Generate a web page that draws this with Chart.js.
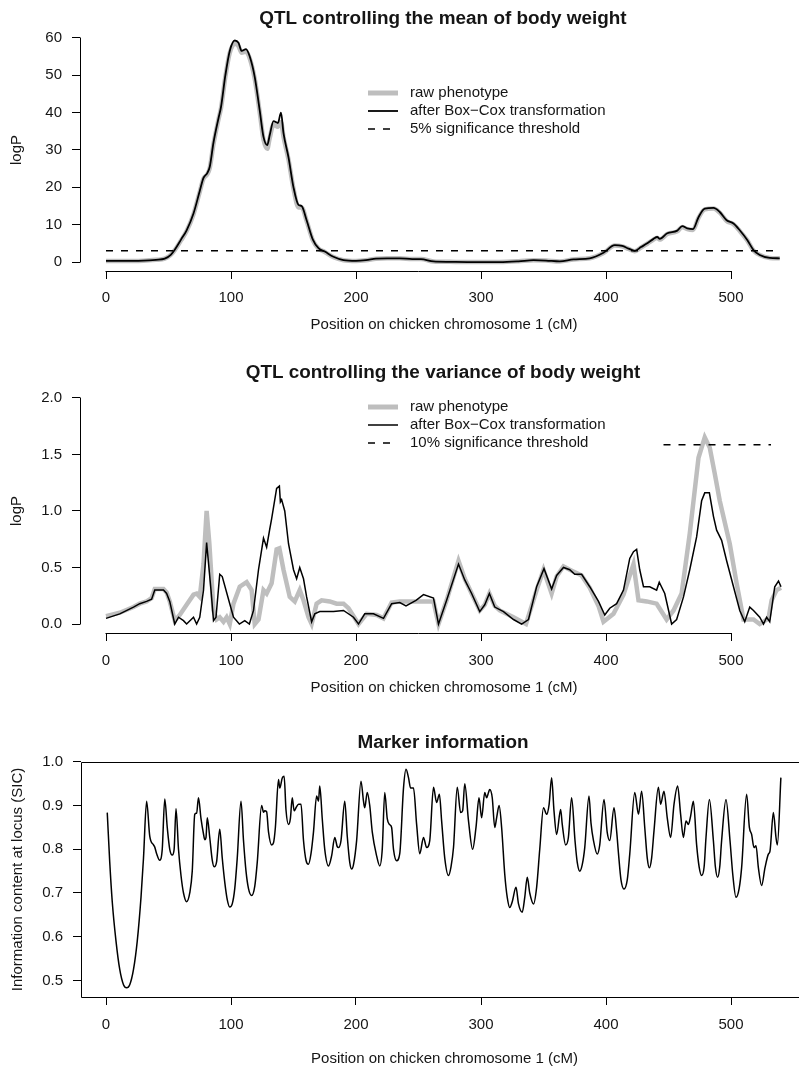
<!DOCTYPE html>
<html><head><meta charset="utf-8">
<script src="https://cdn.jsdelivr.net/npm/chart.js@4.4.1/dist/chart.umd.min.js"></script>
<style>
html,body{margin:0;padding:0;background:#fff;overflow:hidden;width:799px;height:1068px;position:relative;}
canvas{position:absolute;left:0;}
</style></head><body>
<canvas id="c1" width="886" height="342" style="top:0px;width:886px;height:342px"></canvas>
<canvas id="c2" width="886" height="363" style="top:342px;width:886px;height:363px"></canvas>
<canvas id="c3" width="886" height="363" style="top:705px;width:886px;height:363px"></canvas>
<script>
// ---------------- DATA ----------------
const titles = ["QTL controlling the mean of body weight", "QTL controlling the variance of body weight", "Marker information"];
const xAxisTitle = "Position on chicken chromosome 1 (cM)";
const seriesLabels = ["raw phenotype", "after Box\u2212Cox transformation"];
const meanThresholdLabel = "5% significance threshold";
const varThresholdLabel = "10% significance threshold";

// Panel 1: mean
const meanPos = [0,10,20,30,40,47,52,55,60,64.5,70,75,78,81,83,86,90,92,95.5,99,103,106,108.5,112,115,119,123,126,129,131,134,137.5,140,142,146,150,154,156.5,160.5,165.5,170,175,182,190,200,208,216,225,235,245,252,262,275,289,315,330,342,352,363,374,387,398,407,413,418,423,428,433,438,441,443,449,457,461,465,469.6,474,479,486,491,496.5,502,507,513,518,523,531,539];
const meanBoxCox = [0.3,0.3,0.3,0.35,0.6,0.9,2.0,3.3,6,8.5,13,19,22.5,23.8,25.5,32,38.5,41.5,50,56.5,59.3,58.7,56.5,57,55,49.5,40.5,33.5,31.3,34,37.7,37.2,40,34.5,28,20,15.3,15,11.2,6,3.7,2.8,1.4,0.5,0.3,0.5,0.9,1.0,1.0,0.8,0.8,0.15,0.05,0.0,0.0,0.2,0.5,0.4,0.15,0.7,1.0,2.5,4.5,4.3,3.6,3.0,4.0,5.0,6.2,6.7,6.2,7.7,8.4,9.6,9.0,8.8,12,14.3,14.5,13.4,11.2,10.3,8.5,5.9,3.2,1.9,1.1,1.0];
const meanRaw    = [0.3,0.3,0.3,0.35,0.6,0.9,2.0,3.2,5.8,8.3,12.8,18.8,22.3,23.5,25.2,31.6,38.2,41.2,49.6,56,58.4,57.8,56,56.3,54.5,49,40,32.8,30.3,33.2,36.8,36.2,37.5,33.5,27.4,19.6,14.6,14.6,11,5.8,3.6,2.7,1.3,0.5,0.3,0.5,0.9,1.0,1.0,0.8,0.8,0.15,0.05,0.0,0.0,0.2,0.5,0.4,0.15,0.7,1.0,2.4,4.4,4.2,3.5,2.9,3.9,4.9,6.0,6.5,6.0,7.5,8.2,9.4,8.8,8.6,11.8,14.1,14.3,13.2,11.0,10.1,8.3,5.8,3.1,1.9,1.1,1.0];
const meanThresholdPos = [0, 540];
const meanThreshold = [3.0, 3.0];

// Panel 2: variance
const varBoxCoxPos = [0,11,22,27,32.5,36.5,39,46,48.5,51,55,58,62,64.5,70,72.5,75,78,80.5,84,86,88,91,93,99,102,106.7,111,114.7,118,122,126,128.5,131,132.5,136.5,138.7,139.5,140.5,143,146,150,152.5,155,158,160.5,164.5,167,171,182,190,198,202,207,214,222,228.5,235,240,248,254,262,266,272.5,282,287,292.5,299,303,306.7,311,318,326,332.5,338,344.5,350.4,356.5,360.5,366,371,375,380.5,387,394,399,403,408.5,414,419,422,424.5,427,430,435,440.5,442.6,447,452.5,456.5,462,467,472.5,476.5,479,482.7,486,488.5,492.5,496.5,502,507,511,515,518,523,526,528.5,531,535,538,540];
const varBoxCox    = [0.05,0.09,0.15,0.18,0.2,0.22,0.3,0.3,0.27,0.2,0.0,0.06,0.03,0.0,0.06,0.0,0.06,0.3,0.72,0.3,0.03,0.06,0.44,0.42,0.18,0.06,0.0,0.03,0.0,0.12,0.48,0.76,0.68,0.84,0.93,1.2,1.22,1.08,1.1,1.0,0.71,0.48,0.4,0.5,0.4,0.24,0.02,0.09,0.11,0.11,0.12,0.06,0.0,0.09,0.09,0.05,0.18,0.19,0.16,0.21,0.26,0.23,0.0,0.21,0.53,0.39,0.27,0.11,0.17,0.27,0.15,0.11,0.04,0.0,0.04,0.33,0.49,0.31,0.43,0.5,0.48,0.44,0.44,0.33,0.2,0.08,0.14,0.18,0.3,0.58,0.64,0.66,0.48,0.33,0.33,0.3,0.37,0.27,0.0,0.04,0.24,0.48,0.77,1.09,1.16,1.16,0.95,0.83,0.74,0.56,0.33,0.12,0.02,0.15,0.12,0.06,0.0,0.06,0.02,0.33,0.38,0.33];
const varRawPos = [0,11,22,27,32.5,36.5,39,46,48.5,51,55,59,64.5,70,72.5,75,78,80.5,82.7,86,88.5,91,94,96.5,99,102,107,112.5,116.5,119,122,126,128.5,132.5,136.5,138.7,142,147,151,155,158,162,164.5,168.5,172.5,179,184.5,190,194,202,208.5,216.5,222,228.5,235,262,266,272.5,282,287,292.5,299,303,306.7,311,315,326,336,344.5,350,356.5,360.5,366,371,380.5,387,394,398,406,414,422,426,432.5,440.5,448.5,454,460.5,467,474,479,483,487,491,499,504.5,510,518,523,530,532.5,536.5,540];
const varRaw    = [0.07,0.1,0.15,0.18,0.2,0.23,0.31,0.31,0.28,0.2,0.03,0.08,0.17,0.26,0.27,0.24,0.53,1.0,0.71,0.12,0.04,0.06,0.02,0.06,0.0,0.18,0.33,0.37,0.3,0.0,0.04,0.3,0.27,0.36,0.66,0.67,0.48,0.24,0.2,0.3,0.21,0.06,0.0,0.18,0.21,0.2,0.18,0.18,0.14,0.0,0.09,0.08,0.05,0.19,0.2,0.2,0.0,0.21,0.56,0.4,0.27,0.12,0.17,0.27,0.16,0.12,0.06,0.0,0.3,0.48,0.27,0.42,0.51,0.48,0.43,0.32,0.16,0.02,0.09,0.26,0.53,0.21,0.2,0.18,0.04,0.12,0.27,0.8,1.47,1.65,1.56,1.33,1.09,0.71,0.36,0.04,0.04,0.0,0.05,0.21,0.3,0.32];
const varThresholdPos = [446, 532];
const varThreshold = [1.585, 1.585];

// Panel 3: marker information content
const sicPos = [1,3,5,8,11,14,16.5,19,22,25,28,30,32.5,35,38,39,40.5,43,45,47,49,51,53,54.5,56,58,60,62,64.5,67,69,71,72.5,74,76,78,79,80,81,83,85,86.5,88.5,91,93,95,97,99,101,103,105,108,110,112,114,116.5,119,121,124.5,126,127,128.5,130,132.5,134,135.5,138,139,141,142.5,144,146,147.5,149,150.5,152,154,156,158,160,162,164,166,168.5,170,171,173,175,178,180.5,183,185,186,188,191,193,195,196.5,198,200.5,204,206,207,209,211,213,216.5,219,221,223,225,226.7,228.5,230,232.5,235,238,240,242,243.7,246,248.5,251,254,256.5,259,262,264.5,266.7,268.5,271,274,276,278,281,283.7,285.3,287,290,293.3,296,298.4,300.5,303,304.5,306,307,309,311,312.5,314.5,316.5,319,321,323,325,328,330,333,335,337,339,342,344.5,347,350,352.5,354.5,356.5,358.4,360.5,363.7,365,367.7,369.9,372.5,375.2,377,379,381,383,386.4,388,390,393,395,398.4,401,403,406.4,408.5,410,412,414.4,417,419,423,426,428.5,431,433,434.7,436.5,438.4,441.9,443.7,446.4,449,451.7,454.4,457.3,459.7,461.9,464,465.9,467.7,469.9,472.5,474.5,476.5,478.5,480,482.7,485.9,487.5,489.3,491,492.5,496,499.2,501.5,504,506.5,508.5,512.5,514.7,516.5,518.4,520,521.9,524.5,527.2,529.9,531.2,533.9,536,537.1,539.9];
const sic    = [0.884,0.77,0.68,0.59,0.525,0.49,0.483,0.49,0.525,0.59,0.69,0.78,0.91,0.83,0.81,0.805,0.79,0.775,0.8,0.915,0.85,0.8,0.787,0.8,0.893,0.8,0.74,0.7,0.68,0.7,0.75,0.88,0.883,0.918,0.87,0.835,0.822,0.827,0.872,0.827,0.775,0.76,0.772,0.846,0.78,0.725,0.685,0.668,0.675,0.71,0.78,0.91,0.82,0.75,0.71,0.694,0.715,0.77,0.9,0.885,0.888,0.886,0.84,0.81,0.815,0.85,0.96,0.94,0.963,0.967,0.89,0.857,0.87,0.918,0.888,0.895,0.903,0.903,0.82,0.775,0.766,0.79,0.84,0.922,0.91,0.945,0.87,0.8,0.762,0.785,0.827,0.806,0.804,0.82,0.91,0.83,0.77,0.755,0.765,0.82,0.956,0.91,0.895,0.93,0.9,0.84,0.785,0.762,0.8,0.93,0.87,0.857,0.85,0.8,0.774,0.79,0.94,0.983,0.964,0.94,0.94,0.857,0.79,0.827,0.804,0.82,0.942,0.907,0.926,0.865,0.78,0.74,0.76,0.804,0.942,0.884,0.888,0.95,0.865,0.8,0.85,0.918,0.872,0.93,0.918,0.93,0.937,0.918,0.85,0.872,0.9,0.85,0.743,0.69,0.667,0.68,0.713,0.675,0.656,0.69,0.736,0.7,0.675,0.713,0.8,0.895,0.88,0.903,0.964,0.888,0.834,0.891,0.857,0.81,0.827,0.918,0.82,0.77,0.75,0.765,0.804,0.922,0.86,0.82,0.789,0.81,0.914,0.838,0.82,0.895,0.842,0.79,0.73,0.709,0.73,0.789,0.93,0.88,0.933,0.85,0.78,0.758,0.78,0.842,0.942,0.903,0.933,0.872,0.827,0.903,0.945,0.88,0.827,0.865,0.857,0.876,0.91,0.81,0.76,0.74,0.76,0.827,0.914,0.82,0.76,0.736,0.76,0.82,0.914,0.82,0.74,0.69,0.71,0.758,0.926,0.85,0.834,0.804,0.808,0.758,0.717,0.758,0.789,0.796,0.884,0.827,0.81,0.964];

// ---------------- RENDERING ----------------
const FAMILY = "'Liberation Sans', Arial, Helvetica, sans-serif";
const INK = '#151515';
const GREY = '#bebebe';
Chart.defaults.font.family = FAMILY;
Chart.defaults.font.size = 15;
Chart.defaults.color = INK;

const pts = (xs, ys) => xs.map((x, i) => ({x: x, y: ys[i]}));

const rAxes = {
  id: 'rAxes',
  afterDraw(chart, args, o) {
    const {ctx, chartArea: a} = chart;
    const x = chart.scales.x, y = chart.scales.y;
    ctx.save();
    ctx.strokeStyle = '#000';
    ctx.lineWidth = 1;
    ctx.setLineDash([]);
    ctx.beginPath();
    if (o.box) {
      const l = Math.round(a.left) + 0.5, t = Math.round(a.top) + 0.5, r = Math.round(a.right) + 0.5, b = Math.round(a.bottom) + 0.5;
      ctx.rect(l, t, r - l, b - t);
    } else {
      const by = Math.round(a.bottom) + 0.5;
      const xt = x.ticks;
      ctx.moveTo(Math.round(x.getPixelForValue(xt[0].value)) - 0.5, by);
      ctx.lineTo(Math.round(x.getPixelForValue(xt[xt.length - 1].value)) + 0.5, by);
      const bx = Math.round(a.left) + 0.5;
      const yt = y.ticks;
      ctx.moveTo(bx, Math.round(y.getPixelForValue(yt[0].value)) + 0.5);
      ctx.lineTo(bx, Math.round(y.getPixelForValue(yt[yt.length - 1].value)) - 0.5);
    }
    ctx.stroke();
    ctx.restore();
  }
};

const rLegend = {
  id: 'rLegend',
  afterDraw(chart, args, o) {
    if (!o || !o.items) return;
    const ctx = chart.ctx;
    ctx.save();
    o.items.forEach((idx, i) => {
      const ds = chart.data.datasets[idx];
      const yy = o.y + i * o.dy;
      ctx.strokeStyle = ds.borderColor;
      ctx.lineWidth = ds.legendWidth || ds.borderWidth;
      ctx.lineCap = 'butt';
      ctx.setLineDash(ds.borderDash || []);
      ctx.beginPath();
      ctx.moveTo(o.x1, yy);
      ctx.lineTo(o.x2, yy);
      ctx.stroke();
      ctx.setLineDash([]);
      ctx.fillStyle = INK;
      ctx.font = '15px ' + FAMILY;
      ctx.textBaseline = 'middle';
      ctx.textAlign = 'left';
      ctx.fillText(ds.label, o.tx, yy);
    });
    ctx.restore();
  }
};

function panel(cfg) {
  return new Chart(document.getElementById(cfg.id), {
    type: 'line',
    data: {datasets: cfg.datasets},
    plugins: [rAxes, rLegend],
    options: {
      responsive: false,
      animation: false,
      events: [],
      layout: {padding: 0},
      elements: {point: {radius: 0}},
      plugins: {
        legend: {display: false},
        tooltip: {enabled: false},
        title: {
          display: true, text: cfg.title, color: INK,
          font: {size: 18.9, weight: 'bold', lineHeight: 1},
          padding: {top: cfg.titlePad[0], bottom: cfg.titlePad[1]}
        },
        rAxes: {box: !!cfg.box},
        rLegend: cfg.legend || {}
      },
      scales: {
        x: {
          type: 'linear', position: 'bottom', min: cfg.xMin, max: cfg.xMax,
          border: {display: false},
          grid: {display: true, drawOnChartArea: false, drawTicks: true, tickLength: 8, color: '#000', tickColor: '#000', lineWidth: 1},
          ticks: {stepSize: 100, includeBounds: false, maxRotation: 0, autoSkip: false, padding: cfg.xTickPad, color: INK, font: {size: 15, lineHeight: 1.2}},
          title: {display: true, text: xAxisTitle, color: INK, font: {size: 15, lineHeight: 1.2}, padding: {top: 0, bottom: cfg.xTitlePad}},
          afterFit: (s) => { s.height = cfg.xHeight; }
        },
        y: {
          type: 'linear', position: 'left', min: cfg.yMin, max: cfg.yMax,
          border: {display: false},
          grid: {display: true, drawOnChartArea: false, drawTicks: true, tickLength: 8, color: '#000', tickColor: '#000', lineWidth: 1},
          ticks: {stepSize: cfg.yStep, includeBounds: false, padding: 10, color: INK, font: {size: 15, lineHeight: 1.2},
                  callback: (v) => cfg.yFmt(v)},
          title: {display: true, text: cfg.yTitle, color: INK, font: {size: 15, lineHeight: 1.2}, padding: {top: cfg.yTitlePad, bottom: 0}},
          afterFit: (s) => { s.width = cfg.leftWidth; }
        },
        yr: {
          type: 'linear', position: 'right', min: 0, max: 1, display: true,
          border: {display: false}, grid: {display: false}, ticks: {display: false},
          afterFit: (s) => { s.width = 78; }
        }
      }
    }
  });
}

// Panel 1
panel({
  id: 'c1', title: titles[0], titlePad: [9, 1],
  xMin: -20.8, xMax: 561.6, xHeight: 71, xTickPad: 10, xTitlePad: 8,
  yMin: -2.4, yMax: 62.4, yStep: 10, yFmt: (v) => String(Math.round(v)), yTitle: 'logP', yTitlePad: 8, leftWidth: 80,
  legend: {x1: 368, x2: 398, tx: 410, y: 93, dy: 18, items: [1, 0, 2]},
  datasets: [
    {label: seriesLabels[1], data: pts(meanPos, meanBoxCox), borderColor: '#000', borderWidth: 1.8, cubicInterpolationMode: 'monotone', order: 1},
    {label: seriesLabels[0], data: pts(meanPos, meanRaw), borderColor: GREY, borderWidth: 4.5, legendWidth: 5, cubicInterpolationMode: 'monotone', order: 2},
    {label: meanThresholdLabel, data: pts(meanThresholdPos, meanThreshold), borderColor: '#000', borderWidth: 1.5, borderDash: [7, 8], order: 0}
  ]
});

// Panel 2
panel({
  id: 'c2', title: titles[1], titlePad: [21, 7],
  xMin: -20.8, xMax: 561.6, xHeight: 72, xTickPad: 11, xTitlePad: 8,
  yMin: -0.0793, yMax: 2.0793, yStep: 0.5, yFmt: (v) => v.toFixed(1), yTitle: 'logP', yTitlePad: 8, leftWidth: 80,
  legend: {x1: 368, x2: 398, tx: 410, y: 407 - 342, dy: 18, items: [1, 0, 2]},
  datasets: [
    {label: seriesLabels[1], data: pts(varBoxCoxPos, varBoxCox), borderColor: '#000', borderWidth: 1.5, tension: 0, order: 1},
    {label: seriesLabels[0], data: pts(varRawPos, varRaw), borderColor: GREY, borderWidth: 4.5, legendWidth: 5, tension: 0, order: 2},
    {label: varThresholdLabel, data: pts(varThresholdPos, varThreshold), borderColor: '#000', borderWidth: 1.5, borderDash: [7, 8], order: 0}
  ]
});

// Panel 3
panel({
  id: 'c3', title: titles[2], titlePad: [28, 10], box: true,
  xMin: -20.0, xMax: 561.6, xHeight: 71, xTickPad: 11, xTitlePad: 0,
  yMin: 0.462, yMax: 1.0, yStep: 0.1, yFmt: (v) => v.toFixed(1), yTitle: 'Information content at locus (SIC)', yTitlePad: 9, leftWidth: 81,
  datasets: [
    {label: 'SIC', data: pts(sicPos, sic), borderColor: '#000', borderWidth: 1.5, cubicInterpolationMode: 'monotone'}
  ]
});
</script>
</body></html>
